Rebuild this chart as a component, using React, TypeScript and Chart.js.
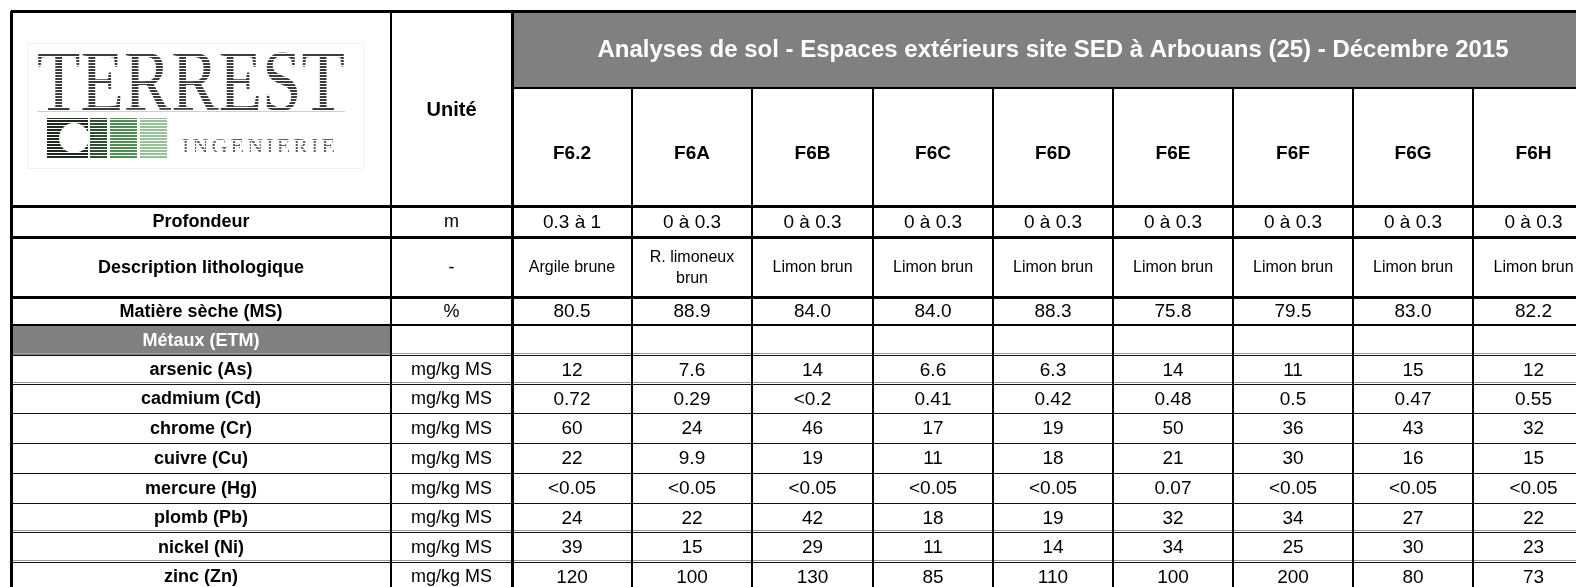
import React, { useEffect, useRef } from "react";
import { Chart, registerables } from "chart.js";

Chart.register(...registerables);

// ---------- data ----------
const TITLE = "Analyses de sol - Espaces extérieurs site SED à Arbouans (25) - Décembre 2015";
const SAMPLES = ["F6.2", "F6A", "F6B", "F6C", "F6D", "F6E", "F6F", "F6G", "F6H"];
const DEPTHS = ["0.3 à 1", "0 à 0.3", "0 à 0.3", "0 à 0.3", "0 à 0.3", "0 à 0.3", "0 à 0.3", "0 à 0.3", "0 à 0.3"];
const DESCRIPTIONS = ["Argile brune", "R. limoneux\nbrun", "Limon brun", "Limon brun", "Limon brun", "Limon brun", "Limon brun", "Limon brun", "Limon brun"];
const DRY_MATTER = ["80.5", "88.9", "84.0", "84.0", "88.3", "75.8", "79.5", "83.0", "82.2"];
const METALS = ["arsenic (As)", "cadmium (Cd)", "chrome (Cr)", "cuivre (Cu)", "mercure (Hg)", "plomb (Pb)", "nickel (Ni)", "zinc (Zn)"];
const ARSENIC = ["12", "7.6", "14", "6.6", "6.3", "14", "11", "15", "12"];
const CADMIUM = ["0.72", "0.29", "<0.2", "0.41", "0.42", "0.48", "0.5", "0.47", "0.55"];
const CHROME = ["60", "24", "46", "17", "19", "50", "36", "43", "32"];
const CUIVRE = ["22", "9.9", "19", "11", "18", "21", "30", "16", "15"];
const MERCURE = ["<0.05", "<0.05", "<0.05", "<0.05", "<0.05", "0.07", "<0.05", "<0.05", "<0.05"];
const PLOMB = ["24", "22", "42", "18", "19", "32", "34", "27", "22"];
const NICKEL = ["39", "15", "29", "11", "14", "34", "25", "30", "23"];
const ZINC = ["120", "100", "130", "85", "110", "100", "200", "80", "73"];
const METAL_VALUES = [ARSENIC, CADMIUM, CHROME, CUIVRE, MERCURE, PLOMB, NICKEL, ZINC];
const METAL_UNIT = "mg/kg MS";

// ---------- layout (grid edges in scale units) ----------
const W = 1576;
const H = 587;
const COL_X = [11, 391, 512, 632, 752, 873, 993, 1113, 1233, 1353, 1473, 1594];
const HEAD_Y = [11, 88, 206, 237, 297, 325, 355];
const METAL_ROW_Y = [355, 384, 413, 443, 473, 503, 532, 562, 591];
const DOUBLE_LINES = [true, true, false, false, false, false, true, true];

const SANS = "'Liberation Sans', Arial, sans-serif";
const SERIF = "'Liberation Serif', 'Times New Roman', serif";
const GREY = "#808080";

function stripePattern(ctx: CanvasRenderingContext2D, color: string) {
  const c = document.createElement("canvas");
  c.width = 4;
  c.height = 3;
  const g = c.getContext("2d")!;
  g.fillStyle = "#ffffff";
  g.fillRect(0, 0, 4, 3);
  g.fillStyle = color;
  g.fillRect(0, 0, 4, 2);
  return ctx.createPattern(c, "repeat")!;
}

const tablePlugin = {
  id: "soilTable",
  beforeDraw(chart: any) {
    const { ctx } = chart;
    ctx.save();
    ctx.fillStyle = "#ffffff";
    ctx.fillRect(0, 0, chart.width, chart.height);
    ctx.restore();
  },
  afterDraw(chart: any) {
    const { ctx } = chart;
    const xs = chart.scales.x;
    const ys = chart.scales.y;
    const px = (v: number) => xs.getPixelForValue(v);
    const py = (v: number) => ys.getPixelForValue(v);

    const rect = (x1: number, y1: number, x2: number, y2: number, color: string | CanvasPattern) => {
      ctx.fillStyle = color;
      ctx.fillRect(px(x1), py(y1), px(x2) - px(x1), py(y2) - py(y1));
    };
    const hLine = (x1: number, x2: number, y: number, t: number, color = "#000") => {
      ctx.fillStyle = color;
      ctx.fillRect(Math.round(px(x1)), Math.round(py(y)) - Math.floor(t / 2), Math.round(px(x2) - px(x1)), t);
    };
    const vLine = (x: number, y1: number, y2: number, t: number, color = "#000") => {
      ctx.fillStyle = color;
      ctx.fillRect(Math.round(px(x)) - Math.floor(t / 2), Math.round(py(y1)), t, Math.round(py(y2) - py(y1)));
    };
    const text = (s: string, x: number, y: number, font: string, color = "#000") => {
      ctx.font = font;
      ctx.fillStyle = color;
      ctx.textAlign = "center";
      ctx.textBaseline = "middle";
      ctx.fillText(s, px(x), py(y));
    };
    const colMid = (i: number) => (COL_X[i] + COL_X[i + 1]) / 2;
    const sampleMid = (j: number) => colMid(j + 2);
    const right = COL_X[COL_X.length - 1];

    ctx.save();

    // grey fills
    rect(COL_X[2], HEAD_Y[0], right, HEAD_Y[1], GREY);
    rect(COL_X[0], HEAD_Y[5], COL_X[1], HEAD_Y[6], GREY);

    // ----- logo -----
    const logoCx = 191;
    ctx.strokeStyle = "#f2f2f2";
    ctx.lineWidth = 1;
    ctx.strokeRect(px(27) + 0.5, py(43) + 0.5, px(363) - px(27), py(168) - py(43));
    ctx.font = `86px ${SERIF}`;
    ctx.textAlign = "center";
    ctx.textBaseline = "alphabetic";
    const terrGrad = ctx.createLinearGradient(px(37), 0, px(345), 0);
    ctx.fillStyle = stripePattern(ctx, "#3c3c3c");
    ctx.fillText("TERREST", px(logoCx), py(110), px(345) - px(37));
    void terrGrad;
    ctx.fillStyle = "#d0d0d0";
    ctx.fillRect(px(37), py(111), px(345) - px(37), 1);
    // icon blocks
    rect(47, 118, 88, 158, stripePattern(ctx, "#1f2a1f"));
    ctx.fillStyle = "#ffffff";
    ctx.beginPath();
    ctx.arc(px(74), py(138), 15, 0, Math.PI * 2);
    ctx.fill();
    rect(90, 118, 107, 158, stripePattern(ctx, "#2d4f2f"));
    rect(110, 118, 137, 158, stripePattern(ctx, "#4f8f52"));
    rect(140, 118, 167, 158, stripePattern(ctx, "#94c494"));
    // INGENIERIE spaced
    const word = "INGENIERIE";
    ctx.font = `22px ${SERIF}`;
    ctx.textAlign = "left";
    const widths = word.split("").map((c) => ctx.measureText(c).width);
    const total = widths.reduce((a, b) => a + b, 0);
    const span = px(335) - px(182);
    const gap = (span - total) / (word.length - 1);
    let cx = px(182);
    ctx.fillStyle = stripePattern(ctx, "#5e5e5e");
    word.split("").forEach((c, i) => {
      ctx.fillText(c, cx, py(153));
      cx += widths[i] + gap;
    });

    // ----- header texts -----
    text(TITLE, (COL_X[2] + right) / 2, (HEAD_Y[0] + HEAD_Y[1]) / 2 + 1, `bold 24px ${SANS}`, "#ffffff");
    text("Unité", colMid(1), (HEAD_Y[0] + HEAD_Y[2]) / 2 + 2, `bold 20px ${SANS}`);
    SAMPLES.forEach((s, j) => text(s, sampleMid(j), (HEAD_Y[1] + HEAD_Y[2]) / 2 + 7, `bold 19px ${SANS}`));

    const rowMid = (a: number, b: number) => (a + b) / 2 + 1;
    const labelFont = `bold 18px ${SANS}`;
    const valFont = `19px ${SANS}`;
    const unitFont = `18px ${SANS}`;

    // Profondeur
    let y = rowMid(HEAD_Y[2], HEAD_Y[3]);
    text("Profondeur", colMid(0), y, labelFont);
    text("m", colMid(1), y, unitFont);
    DEPTHS.forEach((s, j) => text(s, sampleMid(j), y, valFont));

    // Description
    y = rowMid(HEAD_Y[3], HEAD_Y[4]);
    text("Description lithologique", colMid(0), y, labelFont);
    text("-", colMid(1), y, unitFont);
    DESCRIPTIONS.forEach((s, j) => {
      const lines = s.split("\n");
      lines.forEach((ln, k) => text(ln, sampleMid(j), y + (k - (lines.length - 1) / 2) * 21, `16px ${SANS}`));
    });

    // Matière sèche
    y = rowMid(HEAD_Y[4], HEAD_Y[5]);
    text("Matière sèche (MS)", colMid(0), y, labelFont);
    text("%", colMid(1), y, unitFont);
    DRY_MATTER.forEach((s, j) => text(s, sampleMid(j), y, valFont));

    // Métaux
    y = rowMid(HEAD_Y[5], HEAD_Y[6]);
    text("Métaux (ETM)", colMid(0), y, labelFont, "#ffffff");

    // metal rows
    METALS.forEach((m, i) => {
      const yy = rowMid(METAL_ROW_Y[i], METAL_ROW_Y[i + 1]);
      text(m, colMid(0), yy, labelFont);
      text(METAL_UNIT, colMid(1), yy, unitFont);
      METAL_VALUES[i].forEach((s, j) => text(s, sampleMid(j), yy, valFont));
    });

    // ----- grid lines -----
    const bottom = METAL_ROW_Y[METAL_ROW_Y.length - 1];
    METAL_ROW_Y.slice(1, -1).forEach((yy, k) => {
      const dbl = DOUBLE_LINES[k + 1];
      if (dbl) hLine(COL_X[0], right, yy - 2, 1, "#9a9a9a");
      hLine(COL_X[0], right, yy, 1, "#111");
    });
    hLine(COL_X[0], right, HEAD_Y[6] - 2, 1, "#9a9a9a");
    hLine(COL_X[0], right, HEAD_Y[6], 1, "#111");
    hLine(COL_X[0], right, HEAD_Y[5], 2);
    hLine(COL_X[0], right, HEAD_Y[4], 3);
    hLine(COL_X[0], right, HEAD_Y[3], 3);
    hLine(COL_X[0], right, HEAD_Y[2], 3);
    hLine(COL_X[2], right, HEAD_Y[1], 2);
    hLine(COL_X[0], right, HEAD_Y[0], 3);

    COL_X.slice(3, -1).forEach((xx) => vLine(xx, HEAD_Y[1], bottom, 2));
    vLine(COL_X[2], HEAD_Y[0], bottom, 3);
    vLine(COL_X[1], HEAD_Y[0], bottom, 2);
    vLine(COL_X[0], HEAD_Y[0], bottom, 3);
    vLine(right, HEAD_Y[0], bottom, 2);

    ctx.restore();
  },
};

export default function App() {
  const ref = useRef<HTMLCanvasElement | null>(null);

  useEffect(() => {
    document.body.style.margin = "0";
    document.body.style.overflow = "hidden";
    const canvas = ref.current!;
    const chart = new Chart(canvas, {
      type: "scatter",
      data: { datasets: [] },
      options: {
        responsive: false,
        animation: false,
        devicePixelRatio: 1,
        layout: { padding: 0 },
        events: [],
        plugins: { legend: { display: false }, tooltip: { enabled: false }, title: { display: false } },
        scales: {
          x: { type: "linear", min: 0, max: W, display: false },
          y: { type: "linear", min: 0, max: H, reverse: true, display: false },
        },
      },
      plugins: [tablePlugin],
    });
    return () => chart.destroy();
  }, []);

  return (
    <div style={{ width: W, height: H, overflow: "hidden" }}>
      <canvas ref={ref} width={W} height={H} style={{ display: "block" }} />
    </div>
  );
}
